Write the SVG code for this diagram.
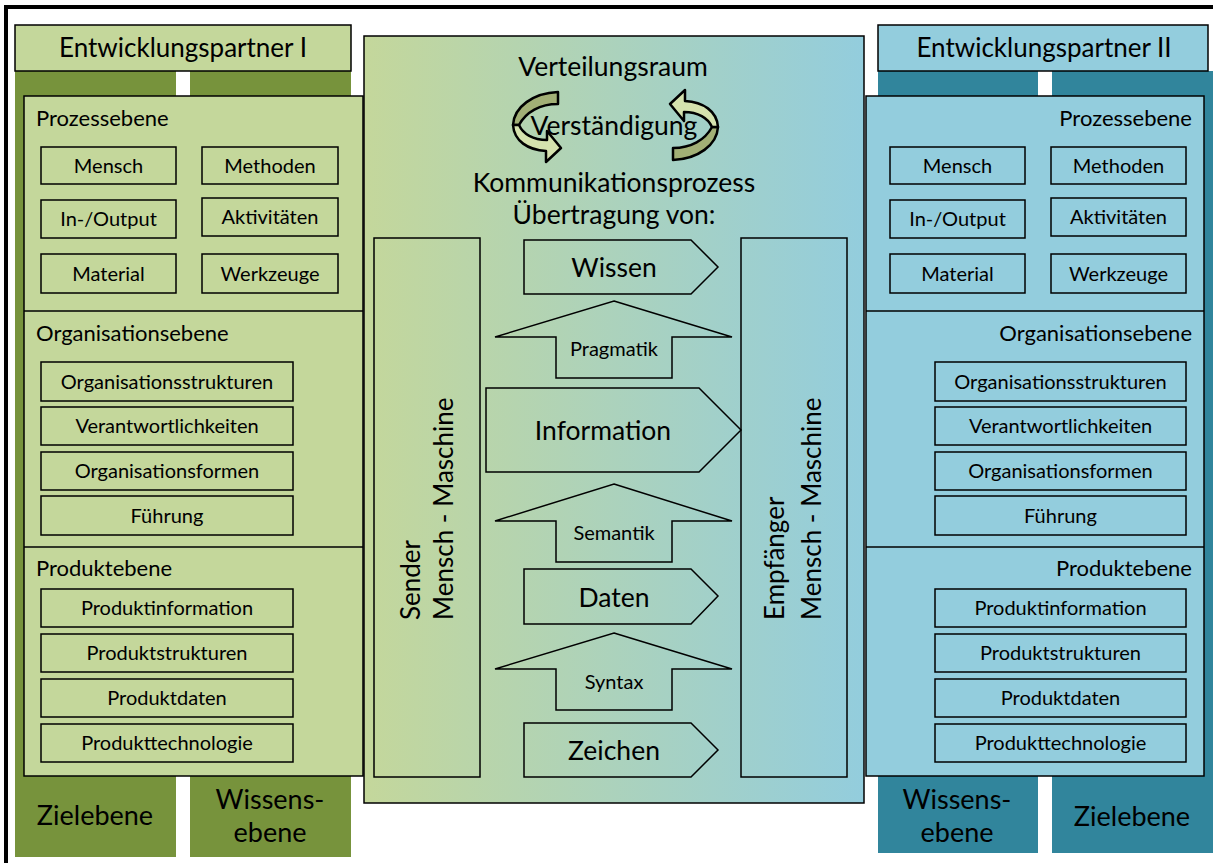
<svg xmlns="http://www.w3.org/2000/svg" width="1213" height="863" viewBox="0 0 1213 863">
  <defs>
    <linearGradient id="midGrad" x1="0" y1="0" x2="1" y2="0">
      <stop offset="0" stop-color="#c4d79b"/>
      <stop offset="1" stop-color="#93cddd"/>
    </linearGradient>
    <g id="turnArrow">
      <!-- upper (tail) half of the curved arrow, shaded darker -->
      <path d="M558,92 L558,104 C540,104 526,112 519,125 L513,125 C514,107 533,93 558,92 Z" fill="#a2b076" stroke="#000" stroke-width="2.5" stroke-linejoin="round"/>
      <!-- lower half with the head -->
      <path d="M513,125 C514,141 528,150 546,151 L546,162 L561,148 L547,131 L547,140 C533,140 523,134 519,125 Z" fill="#d5e2ae" stroke="#000" stroke-width="2.5" stroke-linejoin="round"/>
    </g>
  </defs>
  <style>
    text { font-family: Lato, "Liberation Sans", sans-serif; fill: #000; }
    .panelL { fill: #c4d79b; stroke: #000; stroke-width: 1.5; }
    .panelR { fill: #93cddd; stroke: #000; stroke-width: 1.5; }
    .colL { fill: #77933c; }
    .colR { fill: #31859c; }
    .item { fill: none; stroke: #000; stroke-width: 1.5; }
    .head { font-size: 26px; text-anchor: middle; }
    .lvl { font-size: 22px; }
    .lvlR { font-size: 22px; text-anchor: end; }
    .it { font-size: 20px; text-anchor: middle; }
    .foot { font-size: 27px; text-anchor: middle; }
    .mid { font-size: 26.5px; text-anchor: middle; }
    .flow { fill: none; stroke: #000; stroke-width: 1.5; stroke-linejoin: miter; }
    .up { font-size: 20px; text-anchor: middle; }
    .big { font-size: 26.5px; text-anchor: middle; }
    .side { font-size: 26px; }
  </style>

  <!-- outer frame -->
  <path d="M6,863 L6,7 L1213,7" fill="none" stroke="#000" stroke-width="4"/>

  <!-- partner I -->
  <g id="partner1">
    <rect class="colL" x="15" y="71" width="161" height="786"/>
    <rect class="colL" x="190" y="71" width="161" height="786"/>
    <rect class="panelL" x="15" y="25" width="336" height="46"/>
    <text class="head" x="183" y="57">Entwicklungspartner I</text>
  </g>

  <!-- partner II -->
  <g id="partner2">
    <rect class="colR" x="878" y="71" width="160" height="782"/>
    <rect class="colR" x="1052" y="71" width="161" height="782"/>
    <rect class="panelR" x="878" y="25" width="330" height="46"/>
    <text class="head" x="1044" y="57">Entwicklungspartner II</text>
  </g>

  <!-- distribution space -->
  <g id="verteilungsraum">
    <rect x="364" y="36" width="500" height="767" fill="url(#midGrad)" stroke="#000" stroke-width="1.5"/>
    <text class="mid" x="613" y="76">Verteilungsraum</text>
    <use href="#turnArrow"/>
    <use href="#turnArrow" transform="rotate(180 615.5 126)"/>
    <text class="mid" x="614" y="135">Verständigung</text>
    <text class="mid" x="614" y="192">Kommunikationsprozess</text>
    <text class="mid" x="614" y="224">Übertragung von:</text>
  </g>

  <!-- level panel, partner I -->
  <g id="ebenenL">
    <rect class="panelL" x="24" y="96" width="339" height="680"/>
    <line x1="24" y1="311" x2="363" y2="311" stroke="#000" stroke-width="1.5"/>
    <line x1="24" y1="547" x2="363" y2="547" stroke="#000" stroke-width="1.5"/>
    <text class="lvl" x="36" y="126">Prozessebene</text>
    <text class="lvl" x="36" y="341">Organisationsebene</text>
    <text class="lvl" x="36" y="576">Produktebene</text>
  </g>
  <g id="prozessL">
    <rect class="item" x="41" y="147" width="135" height="37"/><text class="it" x="108.5" y="173">Mensch</text>
    <rect class="item" x="202" y="147" width="136" height="37"/><text class="it" x="270" y="173">Methoden</text>
    <rect class="item" x="41" y="200" width="135" height="38"/><text class="it" x="108.5" y="226">In-/Output</text>
    <rect class="item" x="202" y="198" width="136" height="38"/><text class="it" x="270" y="224">Aktivitäten</text>
    <rect class="item" x="41" y="254" width="135" height="39"/><text class="it" x="108.5" y="281">Material</text>
    <rect class="item" x="202" y="254" width="136" height="39"/><text class="it" x="270" y="281">Werkzeuge</text>
  </g>
  <g id="organisationL">
    <rect class="item" x="41" y="362" width="252" height="39"/><text class="it" x="167" y="389">Organisationsstrukturen</text>
    <rect class="item" x="41" y="407" width="252" height="38"/><text class="it" x="167" y="433">Verantwortlichkeiten</text>
    <rect class="item" x="41" y="452" width="252" height="38"/><text class="it" x="167" y="478">Organisationsformen</text>
    <rect class="item" x="41" y="496" width="252" height="39"/><text class="it" x="167" y="523">Führung</text>
  </g>
  <g id="produktL">
    <rect class="item" x="41" y="589" width="252" height="38"/><text class="it" x="167" y="615">Produktinformation</text>
    <rect class="item" x="41" y="634" width="252" height="38"/><text class="it" x="167" y="660">Produktstrukturen</text>
    <rect class="item" x="41" y="679" width="252" height="38"/><text class="it" x="167" y="705">Produktdaten</text>
    <rect class="item" x="41" y="724" width="252" height="38"/><text class="it" x="167" y="750">Produkttechnologie</text>
  </g>

  <!-- level panel, partner II -->
  <g id="ebenenR">
    <rect class="panelR" x="866" y="96" width="338" height="680"/>
    <line x1="866" y1="311" x2="1204" y2="311" stroke="#000" stroke-width="1.5"/>
    <line x1="866" y1="547" x2="1204" y2="547" stroke="#000" stroke-width="1.5"/>
    <text class="lvlR" x="1192" y="126">Prozessebene</text>
    <text class="lvlR" x="1192" y="341">Organisationsebene</text>
    <text class="lvlR" x="1192" y="576">Produktebene</text>
  </g>
  <g id="prozessR">
    <rect class="item" x="890" y="147" width="135" height="37"/><text class="it" x="957.5" y="173">Mensch</text>
    <rect class="item" x="1051" y="147" width="135" height="37"/><text class="it" x="1118.5" y="173">Methoden</text>
    <rect class="item" x="890" y="200" width="135" height="38"/><text class="it" x="957.5" y="226">In-/Output</text>
    <rect class="item" x="1051" y="198" width="135" height="38"/><text class="it" x="1118.5" y="224">Aktivitäten</text>
    <rect class="item" x="890" y="254" width="135" height="39"/><text class="it" x="957.5" y="281">Material</text>
    <rect class="item" x="1051" y="254" width="135" height="39"/><text class="it" x="1118.5" y="281">Werkzeuge</text>
  </g>
  <g id="organisationR">
    <rect class="item" x="935" y="362" width="251" height="39"/><text class="it" x="1060.5" y="389">Organisationsstrukturen</text>
    <rect class="item" x="935" y="407" width="251" height="38"/><text class="it" x="1060.5" y="433">Verantwortlichkeiten</text>
    <rect class="item" x="935" y="452" width="251" height="38"/><text class="it" x="1060.5" y="478">Organisationsformen</text>
    <rect class="item" x="935" y="496" width="251" height="39"/><text class="it" x="1060.5" y="523">Führung</text>
  </g>
  <g id="produktR">
    <rect class="item" x="935" y="589" width="251" height="38"/><text class="it" x="1060.5" y="615">Produktinformation</text>
    <rect class="item" x="935" y="634" width="251" height="38"/><text class="it" x="1060.5" y="660">Produktstrukturen</text>
    <rect class="item" x="935" y="679" width="251" height="38"/><text class="it" x="1060.5" y="705">Produktdaten</text>
    <rect class="item" x="935" y="724" width="251" height="38"/><text class="it" x="1060.5" y="750">Produkttechnologie</text>
  </g>

  <!-- column labels -->
  <g id="fussL">
    <text class="foot" x="95" y="825">Zielebene</text>
    <text class="foot" x="270" y="809">Wissens-</text>
    <text class="foot" x="270" y="842">ebene</text>
  </g>
  <g id="fussR">
    <text class="foot" x="957" y="809">Wissens-</text>
    <text class="foot" x="957" y="842">ebene</text>
    <text class="foot" x="1132" y="826">Zielebene</text>
  </g>

  <!-- sender and receiver -->
  <g id="sender">
    <rect class="item" x="374" y="238" width="106" height="539"/>
    <text class="side" transform="translate(420 620) rotate(-90)">Sender</text>
    <text class="side" transform="translate(453 620) rotate(-90)">Mensch - Maschine</text>
  </g>
  <g id="empfaenger">
    <rect class="item" x="741" y="238" width="106" height="539"/>
    <text class="side" transform="translate(784 620) rotate(-90)">Empfänger</text>
    <text class="side" transform="translate(821 620) rotate(-90)">Mensch - Maschine</text>
  </g>

  <!-- transfer levels -->
  <g id="connectors">
    <path class="flow" d="M524,240 L691,240 L718,267 L691,294 L524,294 Z"/>
    <path class="flow" d="M614,301 L732,337 L672,337 L672,378 L556,378 L556,337 L495,337 Z"/>
    <path class="flow" d="M486,388 L699,388 L741,430 L699,472 L486,472 Z"/>
    <path class="flow" d="M614,484 L732,521 L672,521 L672,562 L556,562 L556,521 L495,521 Z"/>
    <path class="flow" d="M524,569 L691,569 L718,596 L691,624 L524,624 Z"/>
    <path class="flow" d="M614,633 L732,669 L672,669 L672,710 L556,710 L556,669 L495,669 Z"/>
    <path class="flow" d="M524,723 L691,723 L718,750 L691,777 L524,777 Z"/>
  </g>
  <g id="labels">
    <text class="big" x="614" y="277">Wissen</text>
    <text class="up" x="614" y="356">Pragmatik</text>
    <text class="big" x="603" y="440">Information</text>
    <text class="up" x="614" y="540">Semantik</text>
    <text class="big" x="614" y="607">Daten</text>
    <text class="up" x="614" y="689">Syntax</text>
    <text class="big" x="614" y="760">Zeichen</text>
  </g>
</svg>
